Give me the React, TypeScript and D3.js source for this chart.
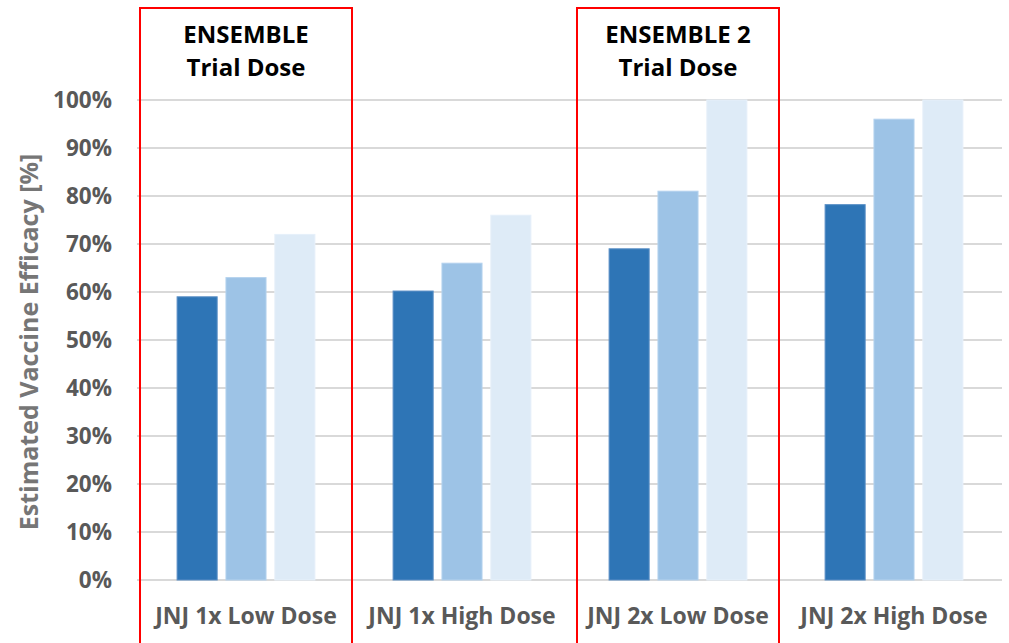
import React from "react";
import * as d3 from "d3";

const categories = ["JNJ 1x Low Dose", "JNJ 1x High Dose", "JNJ 2x Low Dose", "JNJ 2x High Dose"];
const seriesNames = ["Series A", "Series B", "Series C"];
const seriesA = [59, 60.2, 69, 78.2];
const seriesB = [63, 66, 81, 96];
const seriesC = [72, 76, 100, 100];
const yTicks = [0, 10, 20, 30, 40, 50, 60, 70, 80, 90, 100];
const highlights = [
  { category: "JNJ 1x Low Dose", lines: ["ENSEMBLE", "Trial Dose"] },
  { category: "JNJ 2x Low Dose", lines: ["ENSEMBLE 2", "Trial Dose"] },
];

const W = 1009;
const H = 643;
const colors = ["#2e75b6", "#9dc3e6", "#deebf7"];
const FONT = "'Open Sans', sans-serif";

export default function App() {
  const x = d3.scaleBand<string>().domain(categories).range([138, 1002]).paddingInner(0).paddingOuter(0);
  const xs = d3.scaleBand<string>().domain(seriesNames).range([0, x.bandwidth()]).paddingInner(0.18).paddingOuter(0.8);
  const y = d3.scaleLinear().domain([0, 100]).range([580, 100]);
  const values = [seriesA, seriesB, seriesC];

  return (
    <svg width={W} height={H} style={{ position: "absolute", left: 0, top: 0, background: "#fff" }}>
      {yTicks.map((t) => (
        <g key={t}>
          <line x1={137} x2={1002} y1={y(t)} y2={y(t)} stroke="#d9d9d9" strokeWidth={2} />
          <text x={112} y={y(t)} dy="0.36em" textAnchor="end" fontFamily={FONT} fontWeight={700} fontSize={22.5} fill="#595959">
            {t}%
          </text>
        </g>
      ))}
      <text
        transform={`translate(29,${(y(0) + y(100)) / 2 + 2}) rotate(-90)`}
        textAnchor="middle"
        dy="0.35em"
        fontFamily={FONT}
        fontWeight={700}
        fontSize={25}
        fill="#767676"
      >
        Estimated Vaccine Efficacy [%]
      </text>
      {categories.map((c, i) =>
        values.map((vals, s) => (
          <rect
            key={c + s}
            x={(x(c) as number) + (xs(seriesNames[s]) as number)}
            width={xs.bandwidth()}
            y={y(vals[i])}
            height={y(0) - y(vals[i])}
            fill={colors[s]}
            stroke={s === 0 ? "#5b8fc6" : s === 1 ? "#b4d2ee" : "#e6f0fa"}
            strokeWidth={1}
          />
        ))
      )}
      {categories.map((c) => (
        <text
          key={c}
          x={(x(c) as number) + x.bandwidth() / 2}
          y={616}
          dy="0.35em"
          textAnchor="middle"
          fontFamily={FONT}
          fontWeight={700}
          fontSize={23}
          fill="#595959"
        >
          {c}
        </text>
      ))}
      {highlights.map((h, i) => {
        const cx = (x(h.category) as number) + x.bandwidth() / 2;
        const half = i === 0 ? 106 : 101;
        return (
          <g key={h.category}>
            <rect x={cx - half} y={8} width={half * 2} height={H} fill="none" stroke="#ff0000" strokeWidth={2} />
            {h.lines.map((l, k) => (
              <text
                key={k}
                x={cx}
                y={35 + k * 33}
                dy="0.35em"
                textAnchor="middle"
                fontFamily={FONT}
                fontWeight={700}
                fontSize={24}
                fill="#000"
              >
                {l}
              </text>
            ))}
          </g>
        );
      })}
    </svg>
  );
}
